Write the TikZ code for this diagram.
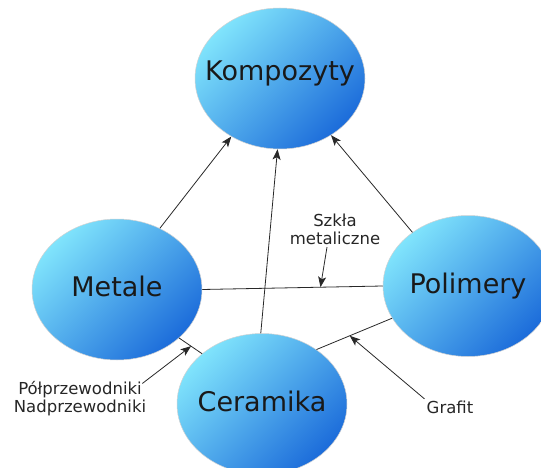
\documentclass[tikz,border=0pt]{standalone}
\usepackage{fontspec}
\setmainfont{DejaVu Sans}
\usepackage{xcolor}
\usepackage{tikz}
\usetikzlibrary{arrows, arrows.meta}
\usetikzlibrary{shapes.geometric}
\usetikzlibrary{calc}
\definecolor{blobhi}{RGB}{128,228,252}
\definecolor{bloblo}{RGB}{28,108,218}
\definecolor{wirecol}{RGB}{40,40,40}

\begin{document}
\begin{tikzpicture}[x=1pt, y=-1pt,
	blob/.style={ellipse, draw=gray!35, line width=0.5pt, top color=blobhi, bottom color=bloblo, shading angle=45, minimum width=170pt, minimum height=141pt, inner sep=0pt},
	bigtext/.style={font=\fontsize{27}{30}\selectfont, text=black!90},
	smalltext/.style={font=\fontsize{16.5}{18}\selectfont, align=center, text=black!85, inner sep=2pt},
	wire/.style={draw=wirecol, line width=0.8pt},
	arr/.style={wire, -{Stealth[length=10.5pt, width=8pt, inset=2.5pt]}}]
	\useasboundingbox (0,0) rectangle (541,468);
	\foreach \nm/\x/\y/\up/\txt in {K/280/78.5/5/Kompozyty, M/117/289.5/3/Metale, P/468/286/0/Polimery, C/262/404/3/Ceramika}
	{
		\node[blob, label={[bigtext, yshift=\up pt]center:\txt}] (\nm) at (\x,\y) {};
	}
	\foreach \a/\b in {M.55/K.230, C.91/K.268, P.136/K.312}
	{
		\draw[arr] (\a) -- (\b);
	}
	\draw[wire] (M.0) -- (P.180);
	\draw[wire] (C.45) -- (P.203);
	\draw[wire] (M.322) -- (C.140);
	\coordinate (mp) at ($(M.0)!0.655!(P.180)$);
	\coordinate (cp) at ($(C.45)!0.44!(P.203)$);
	\coordinate (mc) at ($(M.322)!0.52!(C.140)$);
	\node[smalltext] (szklo) at (335,229.5) {Szkła\\metaliczne};
	\node[smalltext] (grafit) at (450,407.5) {Grafit};
	\node[smalltext] (polprz) at (80,399) {Półprzewodniki\\Nadprzewodniki};
	\draw[arr] ([xshift=-8pt]szklo.south) -- (mp);
	\draw[arr] (grafit.north west) -- (cp);
	\draw[arr] ([xshift=-6pt,yshift=-4pt]polprz.north east) -- (mc);
\end{tikzpicture}
\end{document}
